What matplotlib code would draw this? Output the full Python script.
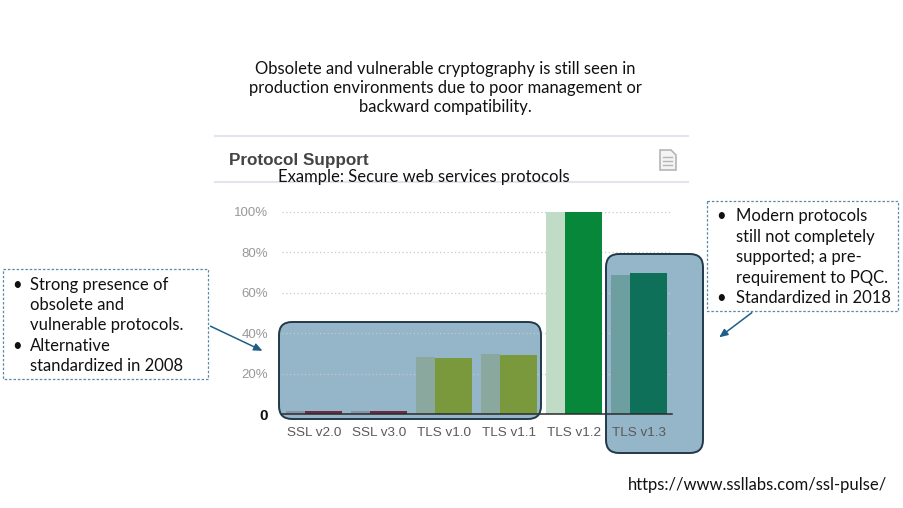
import matplotlib
matplotlib.use("Agg")
import matplotlib.pyplot as plt
from matplotlib.patches import FancyBboxPatch, Rectangle, Polygon
import numpy as np

# ---- data ----
categories = ["SSL v2.0", "SSL v3.0", "TLS v1.0", "TLS v1.1", "TLS v1.2", "TLS v1.3"]
previous = [1.6, 1.6, 28.0, 29.7, 100.0, 68.8]
current = [1.7, 1.7, 27.7, 29.4, 99.8, 70.0]
prev_colors = ["#8a93a6", "#8a93a6", "#8aa89e", "#8aa89e", "#c1dcc6", "#6e9fa0"]
curr_colors = ["#6c2a45", "#6c2a45", "#7a993c", "#7a993c", "#06873a", "#0e7058"]
ytick_vals = [0, 20, 40, 60, 80, 100]
ytick_labels = ["0", "20%", "40%", "60%", "80%", "100%"]

title_text = ("Obsolete and vulnerable cryptography is still seen in\n"
              "production environments due to poor management or\n"
              "backward compatibility.")
left_note = ["Strong presence of", "obsolete and", "vulnerable protocols.",
             "Alternative", "standardized in 2008"]
left_bullets = [True, False, False, True, False]
right_note = ["Modern protocols", "still not completely", "supported; a pre-",
              "requirement to PQC.", "Standardized in 2018"]
right_bullets = [True, False, False, False, True]

W, H = 904, 508
FS = 12
fig = plt.figure(figsize=(W / 100, H / 100), dpi=100)

def overlay(z):
    a = fig.add_axes([0, 0, 1, 1], zorder=z)
    a.set_xlim(0, W)
    a.set_ylim(H, 0)
    a.axis("off")
    a.patch.set_alpha(0)
    return a

bg = overlay(0)
fg = overlay(2)

# ---- main chart axes ----
ax = fig.add_axes([282 / W, (H - 414) / H, 388 / W, 202 / H], zorder=1)
ax.patch.set_alpha(0)
x = np.arange(len(categories))
ax.bar(x - 0.43, previous, width=0.29, align="edge", color=prev_colors, zorder=3)
ax.bar(x - 0.14, current, width=0.57, align="edge", color=curr_colors, zorder=3)
ax.set_xlim(-0.49, 5.48)
ax.set_ylim(0, 100)
for s in ax.spines.values():
    s.set_visible(False)
ax.set_yticks(ytick_vals)
ax.set_yticklabels(ytick_labels, fontfamily="Liberation Sans", fontsize=9.5, color="#999999")
ax.tick_params(axis="y", length=0, pad=10)
lbl0 = ax.get_yticklabels()[0]
lbl0.set_color("#111111")
lbl0.set_fontweight("bold")
lbl0.set_fontsize(11)
ax.set_xticks(x)
ax.set_xticklabels(categories, fontfamily="Liberation Sans", fontsize=9.7, color="#5a5a5a")
ax.tick_params(axis="x", length=0, pad=9)
for v in ytick_vals[1:]:
    ax.axhline(v, color="#c8c8c8", lw=0.9, ls=(0, (1, 2)), zorder=1)
ax.plot([-0.49, 5.51], [0, 0], color="#2b2b2b", lw=1.1, zorder=4, clip_on=False)

# ---- highlight boxes ----
boxes = [(279, 322, 262, 97), (606, 254, 97, 199)]
for (bx, by, bw, bh) in boxes:
    bg.add_patch(FancyBboxPatch((bx, by), bw, bh, boxstyle="round,pad=0,rounding_size=13",
                                facecolor="#3f7a9c", alpha=0.55, edgecolor="none"))
    fg.add_patch(FancyBboxPatch((bx, by), bw, bh, boxstyle="round,pad=0,rounding_size=13",
                                facecolor="none", edgecolor="#22394a", lw=1.4))

# ---- screenshot header ----
fg.plot([215, 688], [136, 136], color="#e4e4ee", lw=1.5)
fg.plot([215, 688], [181.5, 181.5], color="#e4e4ee", lw=1.5)
fg.text(229, 161, "Protocol Support", fontfamily="Liberation Sans", fontweight="bold",
        fontsize=12.3, color="#444444", va="center", ha="left")
fg.text(423.5, 177, "Example: Secure web services protocols", fontfamily="Lato",
        fontsize=FS, color="#111111", va="center", ha="center")
# document icon
fg.add_patch(Polygon([[660, 150], [671, 150], [676, 155], [676, 170], [660, 170]],
                     closed=True, facecolor="#f4f4f4", edgecolor="#b5b5b5", lw=1.2))
for yy in (157, 161, 165):
    fg.plot([663.5, 672.5], [yy, yy], color="#b5b5b5", lw=1.0)

# ---- title ----
fg.text(445, 88, title_text, fontfamily="Lato", fontsize=FS, color="#111111",
        ha="center", va="center", linespacing=1.2)

# ---- annotation notes ----
def note(x0, y0, w, h, lines, bullets, bx, tx, ly0, dy):
    fg.add_patch(Rectangle((x0, y0), w, h, facecolor="white", edgecolor="#5b8aa6",
                           lw=0.9, ls=(0, (2, 1.5))))
    for i, (t, b) in enumerate(zip(lines, bullets)):
        yy = ly0 + i * dy
        if b:
            fg.text(bx, yy, "\u2022", fontfamily="Lato", fontsize=FS, color="#111111",
                    va="center", ha="left")
        fg.text(tx, yy, t, fontfamily="Lato", fontsize=FS, color="#111111",
                va="center", ha="left")

note(3, 269, 205, 110, left_note, left_bullets, 12, 30, 285, 20.2)
note(707, 201, 191, 110, right_note, right_bullets, 716, 736, 216, 20.6)

arrow_kw = dict(arrowstyle="-|>,head_length=0.5,head_width=0.22", color="#1f5f86", lw=1.1)
fg.annotate("", xy=(265, 352), xytext=(208, 325), arrowprops=arrow_kw)
fg.annotate("", xy=(717, 339), xytext=(754, 311), arrowprops=arrow_kw)

# ---- source ----
fg.text(887, 485, "https://www.ssllabs.com/ssl-pulse/", fontfamily="Lato", fontsize=FS,
        color="#111111", ha="right", va="center")

fig.savefig("out.png", dpi=100)
